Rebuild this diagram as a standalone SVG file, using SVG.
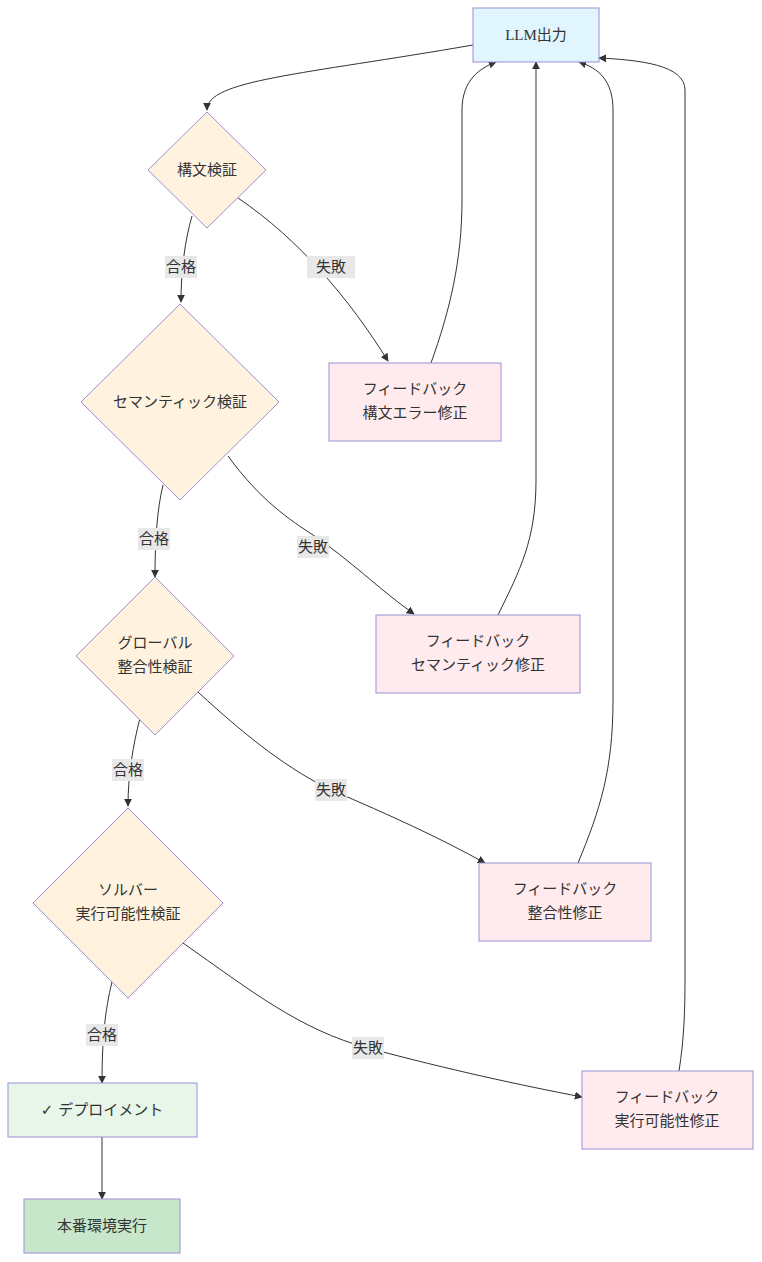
<svg xmlns="http://www.w3.org/2000/svg" width="762" height="1262" viewBox="0 0 762 1262">
<style>
text{font-family:"DejaVu Sans","Noto Sans CJK JP",sans-serif;font-size:15px;fill:#333;text-anchor:middle;dominant-baseline:central}
.n{stroke:#9b8fd8;stroke-width:1}
.e{fill:none;stroke:#333;stroke-width:1}
.lb{fill:#e8e8e8}
</style>
<defs><marker id="a" viewBox="0 0 10 10" refX="9" refY="5" markerWidth="8" markerHeight="8" orient="auto"><path d="M0,0L10,5L0,10z" fill="#333"/></marker></defs>
<rect width="762" height="1262" fill="#fff"/>
<g id="edges">
<path class="e" marker-end="url(#a)" d="M473,45 C300,75 207,80 207,110"/>
<path class="e" marker-end="url(#a)" d="M192,216 C185,240 181,270 181,302"/>
<path class="e" marker-end="url(#a)" d="M238,198 C300,240 350,300 388,361"/>
<path class="e" marker-end="url(#a)" d="M431,363 C450,310 462,260 462,200 L462,110 C462,80 480,68 496,62"/>
<path class="e" marker-end="url(#a)" d="M163,485 C157,510 155,540 155,577"/>
<path class="e" marker-end="url(#a)" d="M228,456 C260,500 290,520 313,535 C350,560 380,590 414,614"/>
<path class="e" marker-end="url(#a)" d="M498,615 C520,570 536,540 536,480 L536,62"/>
<path class="e" marker-end="url(#a)" d="M140,718 C133,745 128,775 128,806"/>
<path class="e" marker-end="url(#a)" d="M198,692 C250,740 290,770 331,790 C390,815 440,838 485,863"/>
<path class="e" marker-end="url(#a)" d="M578,863 C600,810 613,770 613,700 L613,110 C613,80 598,68 579,62"/>
<path class="e" marker-end="url(#a)" d="M112,982 C105,1010 102,1040 102,1083"/>
<path class="e" marker-end="url(#a)" d="M183,943 C250,990 300,1030 368,1048 C450,1070 520,1085 582,1097"/>
<path class="e" marker-end="url(#a)" d="M679,1071 C684,1040 685,1010 685,980 L685,90 C685,65 640,60 599,58"/>
<path class="e" marker-end="url(#a)" d="M102,1137 L102,1199"/>
<rect class="lb" x="165" y="256" width="32" height="22"/><text x="181" y="267">合格</text>
<rect class="lb" x="307" y="256" width="48" height="22" style="fill:#e8e8e8"/><text x="331" y="267">失敗</text>
<rect class="lb" x="138" y="528" width="32" height="22"/><text x="154" y="539">合格</text>
<rect class="lb" x="297" y="536" width="32" height="22"/><text x="313" y="547">失敗</text>
<rect class="lb" x="112" y="759" width="32" height="22"/><text x="128" y="770">合格</text>
<rect class="lb" x="315" y="779" width="32" height="22"/><text x="331" y="790">失敗</text>
<rect class="lb" x="86" y="1024" width="32" height="22"/><text x="102" y="1035">合格</text>
<rect class="lb" x="352" y="1037" width="32" height="22"/><text x="368" y="1048">失敗</text>
</g>
<g id="llm"><rect class="n" x="473" y="8" width="126" height="54" fill="#e1f5fe"/><text x="536" y="35" style="font-family:'Liberation Serif','Noto Sans CJK JP',serif">LLM出力</text></g>
<g id="d1"><polygon class="n" fill="#fff3e0" points="207,112 266,170 207,228 148,170"/><text x="207" y="170">構文検証</text></g>
<g id="fb1"><rect class="n" x="329" y="363" width="172" height="78" fill="#ffebee"/><text x="415" y="389">フィードバック</text><text x="415" y="413">構文エラー修正</text></g>
<g id="d2"><polygon class="n" fill="#fff3e0" points="180,304 279,402 180,500 81,402"/><text x="180" y="402">セマンティック検証</text></g>
<g id="fb2"><rect class="n" x="376" y="615" width="204" height="78" fill="#ffebee"/><text x="478" y="641">フィードバック</text><text x="478" y="665">セマンティック修正</text></g>
<g id="d3"><polygon class="n" fill="#fff3e0" points="155,577 234,656 155,735 76,656"/><text x="155" y="643">グローバル</text><text x="155" y="667">整合性検証</text></g>
<g id="fb3"><rect class="n" x="479" y="863" width="172" height="78" fill="#ffebee"/><text x="565" y="889">フィードバック</text><text x="565" y="913">整合性修正</text></g>
<g id="d4"><polygon class="n" fill="#fff3e0" points="128,808 223,903 128,998 33,903"/><text x="128" y="890">ソルバー</text><text x="128" y="914">実行可能性検証</text></g>
<g id="fb4"><rect class="n" x="582" y="1071" width="171" height="78" fill="#ffebee"/><text x="667" y="1097">フィードバック</text><text x="667" y="1121">実行可能性修正</text></g>
<g id="deploy"><rect class="n" x="8" y="1083" width="189" height="54" fill="#e8f5e9"/><text x="102" y="1110">✓ デプロイメント</text></g>
<g id="prod"><rect class="n" x="24" y="1199" width="156" height="54" fill="#c8e6c9"/><text x="102" y="1226">本番環境実行</text></g>
</svg>
